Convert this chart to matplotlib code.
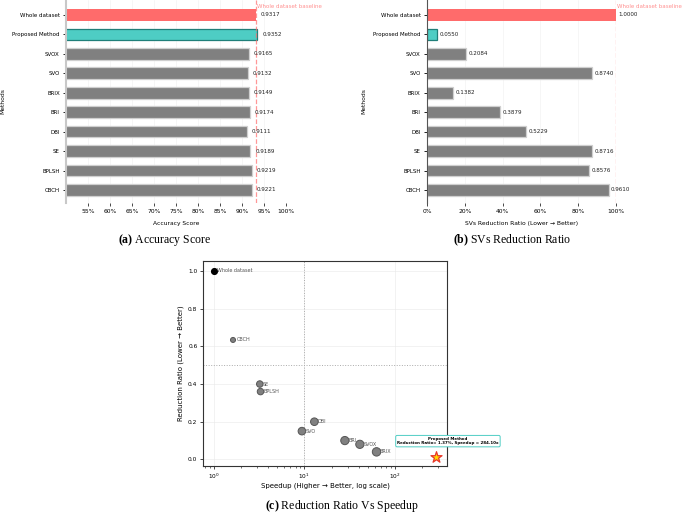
import matplotlib
matplotlib.use("Agg")
import matplotlib.pyplot as plt
import matplotlib.ticker as mticker

plt.rcParams["mathtext.fontset"] = "custom"
plt.rcParams["mathtext.rm"] = "Liberation Serif"
plt.rcParams["mathtext.bf"] = "Liberation Serif:bold"

W, H = 685, 514

METHODS = ["Whole dataset", "Proposed Method", "SVOX", "SVO", "BRIX", "BRI", "DBI", "SE", "BPLSH", "CBCH"]
ACCURACY = [0.9317, 0.9352, 0.9165, 0.9132, 0.9149, 0.9174, 0.9111, 0.9189, 0.9219, 0.9221]
REDUCTION = [1.0000, 0.0550, 0.2084, 0.8740, 0.1382, 0.3879, 0.5229, 0.8716, 0.8576, 0.9610]

SC_NAMES = ["Whole dataset", "CBCH", "SE", "BPLSH", "DBI", "SVO", "BRI", "SVOX", "BRIX"]
SC_SPEEDUP = [1.0, 1.63, 3.22, 3.28, 12.9, 9.4, 28.0, 41.0, 62.7]
SC_RATIO = [1.0, 0.634, 0.40, 0.36, 0.20, 0.15, 0.10, 0.08, 0.04]
SC_SIZE = [17, 13, 22, 22, 30, 30, 35, 35, 37]
PROP_SPEEDUP = 284.10
PROP_RATIO = 0.0137

RED = "#FF6B6B"
TEAL = "#4ECDC4"
GRAY = "#808080"


def box(l, t, r, b):
    return [l / W, (H - b) / H, (r - l) / W, (b - t) / H]


def bar_panel(ax, values, baseline, xlabel, xlim, ticks, offset):
    colors = [RED, TEAL] + [GRAY] * (len(values) - 2)
    edges = ["none", "#1f7f79"] + ["#cfcfcf"] * (len(values) - 2)
    y = range(len(values))
    ax.barh(list(y), values, height=0.6, color=colors, edgecolor=edges, linewidth=0.9)
    ax.set_yticks(list(y))
    ax.set_yticklabels(METHODS, fontsize=4.0)
    ax.set_ylim(9.67, -0.77)
    ax.set_xlim(*xlim)
    ax.set_xticks(ticks)
    ax.xaxis.set_major_formatter(mticker.FuncFormatter(lambda v, p: f"{v * 100:.0f}%"))
    ax.tick_params(axis="x", labelsize=4.3, length=2, width=0.5, pad=2)
    ax.tick_params(axis="y", length=2.5, width=0.6, pad=2)
    ax.set_xlabel(xlabel, fontsize=4.3, labelpad=5)
    ax.set_ylabel("Methods", fontsize=4.3, labelpad=5)
    for s in ["top", "right", "bottom"]:
        ax.spines[s].set_visible(False)
    ax.grid(axis="x", color="#e5e5e5", linewidth=0.4, alpha=0.6)
    ax.set_axisbelow(True)
    for i, v in enumerate(values):
        ax.text(v + offset, i, f"{v:.4f}", va="center", ha="left", fontsize=4.1, color="#222222")
    ax.axvline(baseline, color=RED, linestyle="--", linewidth=0.9, alpha=0.7)
    ax.text(baseline + offset * 0.3, -0.33, "Whole dataset baseline",
            color=RED, alpha=0.75, fontsize=4.0, ha="left", va="bottom")


fig = plt.figure(figsize=(W / 100, H / 100), dpi=100)

ax_a = fig.add_axes(box(66, 0, 286, 203))
bar_panel(ax_a, ACCURACY, ACCURACY[0], "Accuracy Score", (0.5, 1.0),
          [0.55, 0.6, 0.65, 0.7, 0.75, 0.8, 0.85, 0.9, 0.95, 1.0], 0.011)
ax_a.spines["left"].set_color("#c8c8c8")
ax_a.spines["left"].set_linewidth(1.5)

ax_b = fig.add_axes(box(427, 0, 616, 203))
bar_panel(ax_b, REDUCTION, 1.0, "SVs Reduction Ratio (Lower \u2192 Better)", (0.0, 1.0),
          [0, 0.2, 0.4, 0.6, 0.8, 1.0], 0.013)
ax_b.spines["left"].set_color("#555555")
ax_b.spines["left"].set_linewidth(0.8)

ax_c = fig.add_axes(box(203, 261, 447, 466))
ax_c.set_xscale("log")
ax_c.scatter(SC_SPEEDUP[1:], SC_RATIO[1:], s=SC_SIZE[1:], color=GRAY, edgecolor="#555555",
             linewidth=0.7, zorder=3)
ax_c.scatter(SC_SPEEDUP[:1], SC_RATIO[:1], s=SC_SIZE[:1], color="black", zorder=3)
for name, x, y in zip(SC_NAMES, SC_SPEEDUP, SC_RATIO):
    ax_c.annotate(name, (x, y), xytext=(2.4, 0), textcoords="offset points",
                  fontsize=3.5, color="#555555", va="center", ha="left")
ax_c.scatter([PROP_SPEEDUP], [PROP_RATIO], marker="*", s=70, color="#FFD700",
             edgecolor="#E8372C", linewidth=0.9, zorder=4)
ax_c.annotate(f"Proposed Method\nReduction Ratio= {PROP_RATIO * 100:.2f}%, Speedup = {PROP_SPEEDUP:.2f}x",
              (PROP_SPEEDUP, PROP_RATIO), xytext=(385, 0.097), textcoords="data",
              fontsize=2.9, fontweight="bold", ha="center", va="center", annotation_clip=False,
              bbox=dict(boxstyle="round,pad=0.35", facecolor="white", edgecolor=TEAL, linewidth=0.7))
ax_c.axvline(10, color="#aaaaaa", linestyle=":", linewidth=0.7)
ax_c.axhline(0.5, color="#aaaaaa", linestyle=":", linewidth=0.7)
ax_c.set_xlim(0.76, 376)
ax_c.set_ylim(-0.035, 1.053)
ax_c.set_yticks([0.0, 0.2, 0.4, 0.6, 0.8, 1.0])
ax_c.grid(True, color="#e8e8e8", linewidth=0.4)
ax_c.set_axisbelow(True)
ax_c.tick_params(labelsize=4.2, length=2, width=0.5, pad=2)
ax_c.tick_params(which="minor", length=1.2, width=0.4)
ax_c.set_xlabel("Speedup (Higher \u2192 Better, log scale)", fontsize=5, labelpad=1.5)
ax_c.set_ylabel("Reduction Ratio (Lower \u2192 Better)", fontsize=5, labelpad=3)
for s in ax_c.spines.values():
    s.set_linewidth(0.8)
    s.set_color("#333333")

cap = dict(family="Liberation Serif", fontsize=8.5, ha="center", va="center")
fig.text(164 / W, 1 - 240 / H, r"$\mathbf{(a)}$ Accuracy Score", **cap)
fig.text(512 / W, 1 - 240 / H, r"$\mathbf{(b)}$ SVs Reduction Ratio", **cap)
fig.text(342 / W, 1 - 506 / H, r"$\mathbf{(c)}$ Reduction Ratio Vs Speedup", **cap)

fig.savefig("out.png", dpi=100)
